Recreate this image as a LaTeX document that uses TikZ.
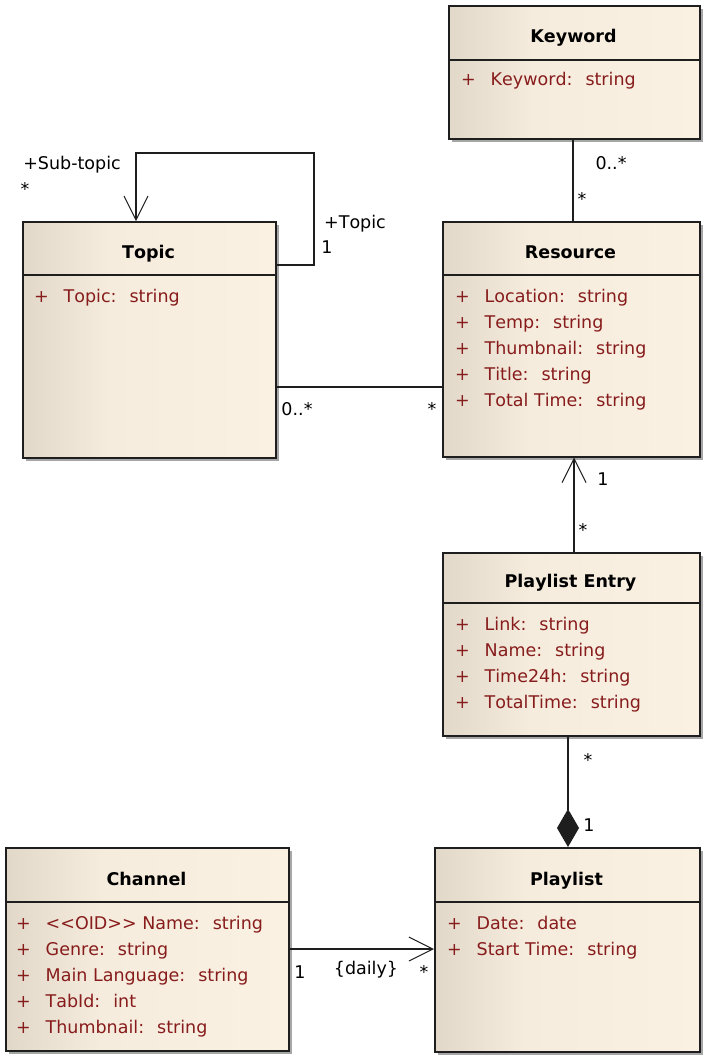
\documentclass[tikz,border=0pt]{standalone}
\usepackage{fontspec}
\setmainfont[Kerning=Off]{DejaVu Sans}
\usetikzlibrary{arrows.meta,shadows}

\definecolor{clsleft}{RGB}{225,216,201}
\definecolor{clsmid}{RGB}{246,236,221}
\definecolor{clsright}{RGB}{251,241,227}
\definecolor{attrred}{RGB}{135,28,28}
\definecolor{clsline}{RGB}{30,30,30}

\pgfdeclarehorizontalshading{clsshade}{100bp}{color(0bp)=(clsleft); color(25bp)=(clsleft); color(42bp)=(clsmid); color(75bp)=(clsright); color(100bp)=(clsright)}

\newcommand{\pl}{\makebox[29.5pt][l]{+}}

\begin{document}
\begin{tikzpicture}[
  x=1pt,
  y=-1pt,
  cls/.style={rectangle, draw=clsline, line width=1.5pt, shading=clsshade, anchor=north west, inner sep=0pt, drop shadow={shadow xshift=3pt, shadow yshift=-3pt, fill=black!35, opacity=1}},
  sepline/.style={draw=clsline, line width=1.5pt},
  title/.style={anchor=base, inner sep=0pt, font=\fontsize{17.5}{26}\selectfont\bfseries},
  attrs/.style={anchor=base west, align=left, inner sep=0pt, text=attrred, font=\fontsize{17.5}{26}\selectfont},
  mult/.style={anchor=base, inner sep=0pt, font=\fontsize{17.5}{26}\selectfont},
  assoc/.style={draw=clsline, line width=1.3pt},
  navig/.style={assoc, -{Straight Barb[length=24pt, width=24pt, line width=1pt]}},
  compo/.style={assoc, -{Diamond[length=38pt, width=22pt]}},
]

\path[use as bounding box, fill=white] (0,0) rectangle (702,1055);

% classes
\node[cls, minimum width=251pt, minimum height=133pt] (keyword) at (448,5) {};
\node[cls, minimum width=253pt, minimum height=236pt] (topic) at (22,221) {};
\node[cls, minimum width=257pt, minimum height=235pt] (resource) at (442,221) {};
\node[cls, minimum width=257pt, minimum height=183pt] (entry) at (442,552) {};
\node[cls, minimum width=283pt, minimum height=203pt] (channel) at (5,847) {};
\node[cls, minimum width=265pt, minimum height=204pt] (playlist) at (434,847) {};

\draw[sepline] (keyword.west |- 0,60) -- (keyword.east |- 0,60);
\draw[sepline] (topic.west |- 0,275) -- (topic.east |- 0,275);
\draw[sepline] (resource.west |- 0,275) -- (resource.east |- 0,275);
\draw[sepline] (entry.west |- 0,603) -- (entry.east |- 0,603);
\draw[sepline] (channel.west |- 0,902) -- (channel.east |- 0,902);
\draw[sepline] (playlist.west |- 0,902) -- (playlist.east |- 0,902);

\node[title] (kwtitle) at (573.5,42) {Keyword};
\node[title] (tptitle) at (148.5,258) {Topic};
\node[title] (rstitle) at (570.5,258) {Resource};
\node[title] (entitle) at (570.5,587) {Playlist Entry};
\node[title] (chtitle) at (146.5,885) {Channel};
\node[title] (pltitle) at (566.5,885) {Playlist};

% attribute lists (anchored on the baseline of their last line)
\node[attrs] (kwattrs) at (461,85) {\pl Keyword:~ string};
\node[attrs] (tpattrs) at (34,302) {\pl Topic:~ string};
\node[attrs] (rsattrs) at (455,406) {\pl Location:~ string\\ \pl Temp:~ string\\ \pl Thumbnail:~ string\\ \pl Title:~ string\\ \pl Total Time:~ string};
\node[attrs] (enattrs) at (455,708) {\pl Link:~ string\\ \pl Name:~ string\\ \pl Time24h:~ string\\ \pl TotalTime:~ string};
\node[attrs] (chattrs) at (16,1033) {\pl <{}<OID>{}> Name:~ string\\ \pl Genre:~ string\\ \pl Main Language:~ string\\ \pl TabId:~ int\\ \pl Thumbnail:~ string};
\node[attrs] (plattrs) at (447,955) {\pl Date:~ date\\ \pl Start Time:~ string};

% associations
\coordinate (loopR) at (314,153);
\coordinate (loopL) at (136,153);
\draw[navig] (topic.east |- 0,265) -| (loopR) -- (loopL) -- (loopL |- topic.north);
\draw[assoc] (keyword.south -| 573,0) -- (resource.north -| 573,0);
\draw[assoc] (topic.east |- 0,387) -- (resource.west |- 0,387);
\draw[navig] (entry.north -| 574,0) -- (resource.south -| 574,0);
\draw[compo] (entry.south -| 568,0) -- (playlist.north -| 568,0);
\draw[navig] (channel.east |- 0,949) -- (playlist.west |- 0,949);

% multiplicities and roles
\node[mult] (kwmany) at (611,169) {0..*};
\node[mult] (rskw) at (582,205) {*};
\node[mult] (subrole) at (72,169) {+Sub-topic};
\node[mult] (submany) at (25,195) {*};
\node[mult] (toprole) at (355,228) {+Topic};
\node[mult] (topone) at (327,253) {1};
\node[mult] (tpmany) at (297,415) {0..*};
\node[mult] (rsmany) at (432,415) {*};
\node[mult] (rsone) at (603,485) {1};
\node[mult] (enmany) at (583,536) {*};
\node[mult] (enmany2) at (588,766) {*};
\node[mult] (plone) at (589,831) {1};
\node[mult] (chone) at (300,978) {1};
\node[mult] (daily) at (366,974) {\{daily\}};
\node[mult] (plmany) at (424,978) {*};

\end{tikzpicture}
\end{document}
